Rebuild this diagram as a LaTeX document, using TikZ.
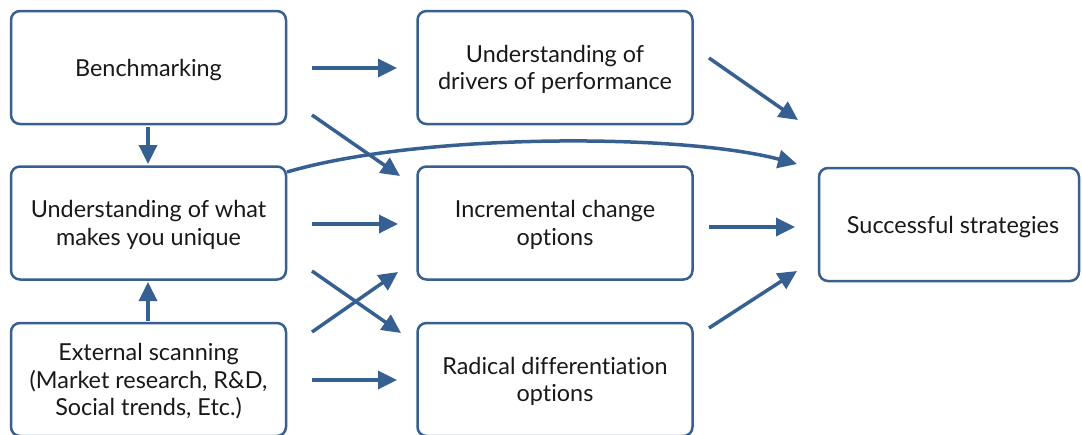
\documentclass[tikz,border=0pt]{standalone}
\usepackage{fontspec}
\setmainfont[Ligatures=NoCommon]{Lato}
\usetikzlibrary{arrows.meta}
\definecolor{boxblue}{RGB}{56,95,142}
\definecolor{arrblue}{RGB}{55,96,146}
\newcommand{\boxtext}[1]{\raisebox{-3pt}[\height][\depth]{\begin{tabular}{@{}c@{}}#1\end{tabular}}}
\begin{document}
\begin{tikzpicture}[x=1pt,y=-1pt,
  box/.style={draw=boxblue,line width=2.5pt,rounded corners=9pt,fill=white,
    minimum width=275pt,minimum height=113pt,align=center,inner sep=0pt,
    font=\fontsize{23.4}{27.5}\selectfont,text=black!90},
  arr/.style={draw=arrblue,line width=3.5pt,-{Triangle[length=19pt,width=18pt]}}]
\useasboundingbox (0,0) rectangle (1082,434);
\clip (0,0) rectangle (1082,434);
\node[box] (bench) at (148.5,67.5) {\boxtext{Benchmarking}};
\node[box] (uniq) at (148.5,223) {\boxtext{Understanding of what\\makes you unique}};
\node[box] (ext) at (148.5,379.5) {\boxtext{External scanning\\(Market research, R\&D,\\Social trends, Etc.)}};
\node[box] (drv) at (555,67.5) {\boxtext{Understanding of\\drivers of performance}};
\node[box] (inc) at (555,223) {\boxtext{Incremental change\\options}};
\node[box] (rad) at (555,379.5) {\boxtext{Radical differentiation\\options}};
\node[box,minimum width=260pt] (succ) at (949,224.5) {\hspace*{8pt}\boxtext{Successful strategies}};
% arrow end coordinates
\coordinate (a1s) at (312,68);  \coordinate (a1e) at (397,68);
\coordinate (a2s) at (312,115); \coordinate (a2e) at (400,176);
\coordinate (a3s) at (148,127); \coordinate (a3e) at (148,164);
\coordinate (a4s) at (287,172); \coordinate (a4e) at (797,164);
\coordinate (a5s) at (312,224); \coordinate (a5e) at (398,224);
\coordinate (a6s) at (312,271); \coordinate (a6e) at (401,333);
\coordinate (a7s) at (312,332); \coordinate (a7e) at (398,272);
\coordinate (a8s) at (312,380); \coordinate (a8e) at (397,380);
\coordinate (a9s) at (148,321); \coordinate (a9e) at (148,282);
\coordinate (a10s) at (709,58); \coordinate (a10e) at (798,120);
\coordinate (a11s) at (709,227); \coordinate (a11e) at (795,227);
\coordinate (a12s) at (709,328); \coordinate (a12e) at (797,271);
\draw[arr] (a1s) -- (a1e);
\draw[arr] (a2s) -- (a2e);
\draw[arr] (a3s) -- (a3e);
\draw[arr] (a4s) .. controls (420,133) and (680,133) .. (a4e);
\draw[arr] (a5s) -- (a5e);
\draw[arr] (a6s) -- (a6e);
\draw[arr] (a7s) -- (a7e);
\draw[arr] (a8s) -- (a8e);
\draw[arr] (a9s) -- (a9e);
\draw[arr] (a10s) -- (a10e);
\draw[arr] (a11s) -- (a11e);
\draw[arr] (a12s) -- (a12e);
\end{tikzpicture}
\end{document}
